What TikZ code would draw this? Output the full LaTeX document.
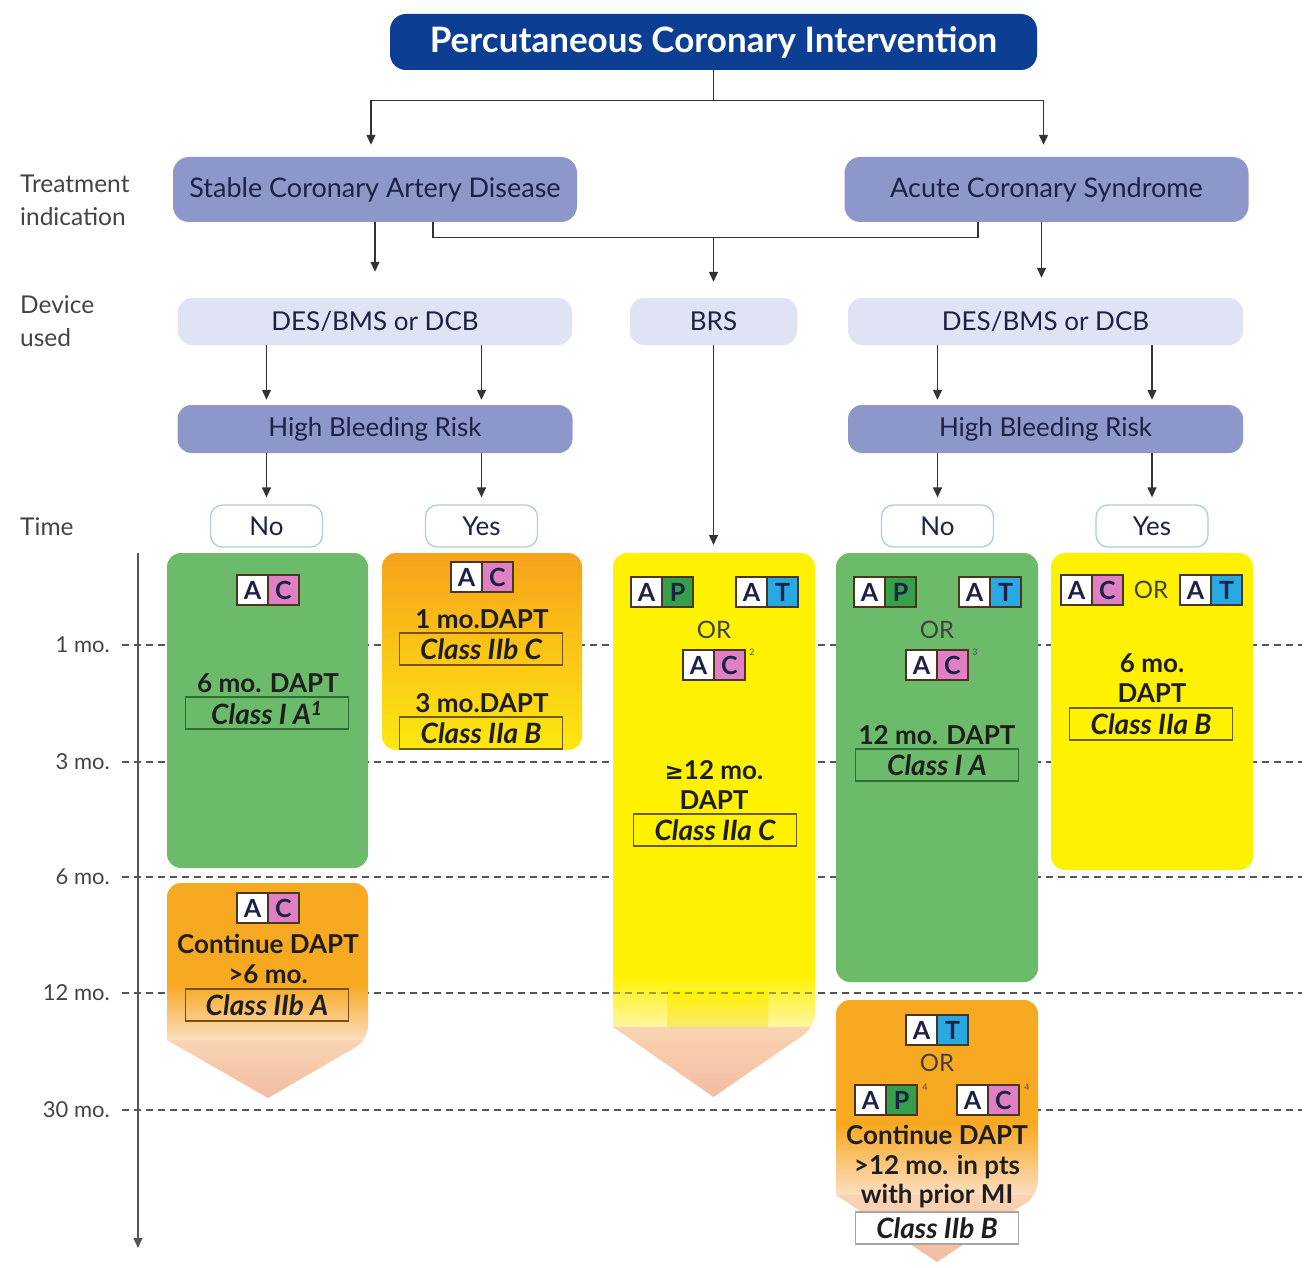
\documentclass[tikz,border=0pt]{standalone}
\usepackage{fontspec}
\setmainfont{Lato}
\newfontfamily\djv{DejaVu Sans}
\usetikzlibrary{arrows.meta,calc}
\definecolor{titleblue}{HTML}{0C3F93}
\definecolor{peri}{HTML}{8D97C9}
\definecolor{lav}{HTML}{DFE3F4}
\definecolor{nybord}{HTML}{A9CFD9}
\definecolor{gbox}{HTML}{6CBB6B}
\definecolor{ybox}{HTML}{FFF200}
\definecolor{obox}{HTML}{F7A21B}
\definecolor{obox2}{HTML}{F8A922}
\definecolor{yend}{HTML}{FDE810}
\definecolor{peachA}{HTML}{F9D4B2}
\definecolor{peachB}{HTML}{F3BBA2}
\definecolor{fadeO}{HTML}{FCDFC4}
\definecolor{fadeY}{HTML}{FFF6A8}
\definecolor{stemY}{HTML}{FBE870}
\definecolor{chipbord}{HTML}{4A3520}
\definecolor{chipC}{HTML}{E07FC4}
\definecolor{chipP}{HTML}{34A04A}
\definecolor{chipT}{HTML}{27A9E1}
\definecolor{navytext}{HTML}{1C2145}
\definecolor{linegrey}{HTML}{333333}
\definecolor{labgrey}{HTML}{444444}
\definecolor{dashgrey}{HTML}{555555}
\definecolor{clsG}{HTML}{2E6E35}
\definecolor{clsO}{HTML}{7A5010}
\definecolor{clsY}{HTML}{6B5A10}
\definecolor{boxtext}{HTML}{1E1E1E}
\tikzset{
  sq/.style={draw=chipbord, line width=1.2pt, minimum width=31pt, minimum height=30pt, inner sep=0pt,
    font=\bfseries\fontsize{25}{25}\selectfont, text=navytext},
  pics/chip/.style 2 args={code={
    \node[sq, fill=white] (-a) at (-15.5,0) {A};
    \node[sq, fill=#2] (-b) at (15.5,0) {#1};
  }},
}
\begin{document}
\begin{tikzpicture}[x=1pt,y=-1pt,
  flow/.style={rounded corners=16pt, fill=peri, text=navytext, font=\fontsize{27}{31}\selectfont,
    minimum width=404pt, minimum height=65pt, inner sep=0pt},
  dev/.style={rounded corners=14pt, fill=lav, text=navytext, font=\fontsize{26}{30}\selectfont,
    minimum height=47pt, inner sep=0pt},
  hbr/.style={rounded corners=14pt, fill=peri, text=navytext, font=\fontsize{26}{30}\selectfont,
    minimum width=395pt, minimum height=48pt, inner sep=0pt},
  yn/.style={draw=nybord, line width=1.3pt, fill=white, rounded corners=12pt, text=navytext,
    font=\fontsize{26}{30}\selectfont, minimum width=112pt, minimum height=42pt, inner sep=0pt},
  side/.style={anchor=west, align=left, text=labgrey, font=\fontsize{24.5}{33}\selectfont, inner sep=0pt},
  tlab/.style={anchor=east, text=labgrey, font=\fontsize{22}{26}\selectfont, inner sep=0pt},
  arr/.style={draw=linegrey, line width=1.3pt, -{Triangle[length=10pt,width=9pt]}},
  ln/.style={draw=linegrey, line width=1.3pt},
  dashline/.style={draw=dashgrey, line width=1.5pt, dash pattern=on 7pt off 5pt},
  axisline/.style={draw=dashgrey, line width=1.5pt, -{Triangle[length=10pt,width=9pt]}},
  btext/.style={font=\bfseries\fontsize{26}{29.5}\selectfont, text=boxtext, align=center, inner sep=0pt},
  cls/.style={draw=#1, line width=1.2pt, font=\bfseries\itshape\fontsize{28}{30}\selectfont, text=boxtext,
    minimum width=163pt, minimum height=32pt, inner sep=0pt},
  orx/.style={font=\fontsize{24}{28}\selectfont, text=black!75, inner sep=0pt},
  supx/.style={font=\fontsize{9}{9}\selectfont, text=black!70, inner sep=0pt},
]
\useasboundingbox (0,0) rectangle (1307,1268);
\fill[white] (0,0) rectangle (1307,1268);

% ---------- flow part ----------
\node[rounded corners=16pt, fill=titleblue, text=white, font=\bfseries\fontsize{35}{38}\selectfont,
  minimum width=647pt, minimum height=56pt, inner sep=0pt] (title) at (713.5,42) {Percutaneous Coronary Intervention};

\node[flow] (scad) at (375,189.5) {Stable Coronary Artery Disease};
\node[flow] (acs) at (1046.5,189.5) {Acute Coronary Syndrome};

\node[side] (lab1) at (20,200) {Treatment\\indication};
\node[side] (lab2) at (20,321.5) {Device\\used};
\node[side] (lab3) at (20,527) {Time};

\node[dev, minimum width=394pt] (desL) at (375,321.5) {DES/BMS or DCB};
\node[dev, minimum width=167pt] (brs) at (713.5,321.5) {BRS};
\node[dev, minimum width=395pt] (desR) at (1045.5,321.5) {DES/BMS or DCB};

\node[hbr] (hbrL) at (375,429) {High Bleeding Risk};
\node[hbr] (hbrR) at (1045.5,429) {High Bleeding Risk};

\node[yn] (noL) at (266.5,526) {No};
\node[yn] (yesL) at (481.5,526) {Yes};
\node[yn] (noR) at (937.5,526) {No};
\node[yn] (yesR) at (1152,526) {Yes};

% connectors
\draw[arr, shorten >=12pt] (title.south) -- ++(0,30) -| ([xshift=-4pt]scad.north);
\draw[arr, shorten >=12pt] (title.south) -- ++(0,30) -| ([xshift=-3pt]acs.north);
\draw[arr, shorten >=26pt] (scad.south) -- (desL.north);
\draw[arr, shorten >=20pt] ([xshift=-5pt]acs.south) -- ([xshift=-5pt]acs.south |- desR.north);
\draw[ln] ($(scad.south)+(58,0)$) -- ++(0,15) coordinate (jn0) -| ($(acs.south)+(-68.5,0)$);
\coordinate (jn) at (brs.north |- jn0);
\draw[arr, shorten >=16pt] (jn) -- (brs.north);

\draw[arr, shorten >=5pt] (desL.south -| noL.north) -- (hbrL.north -| noL.north);
\draw[arr, shorten >=5pt] (desL.south -| yesL.north) -- (hbrL.north -| yesL.north);
\draw[arr, shorten >=5pt] (desR.south -| noR.north) -- (hbrR.north -| noR.north);
\draw[arr, shorten >=5pt] (desR.south -| yesR.north) -- (hbrR.north -| yesR.north);

\draw[arr, shorten >=7pt] (hbrL.south -| noL.north) -- (noL.north);
\draw[arr, shorten >=7pt] (hbrL.south -| yesL.north) -- (yesL.north);
\draw[arr, shorten >=7pt] (hbrR.south -| noR.north) -- (noR.north);
\draw[arr, shorten >=7pt] (hbrR.south -| yesR.north) -- (yesR.north);

\coordinate (brsTop) at (713.5,553);
\draw[arr, shorten >=8pt] (brs.south) -- (brsTop);

% ---------- time axis ----------
\coordinate (axtop) at (138,553);
\coordinate (axbot) at (138,1248);
\draw[axisline] (axtop) -- (axbot);
\foreach \yy/\tt/\nm in {645/1 mo./t1, 762/3 mo./t3, 877/6 mo./t6, 993/12 mo./t12, 1110/30 mo./t30}{
  \node[tlab] (\nm) at (110,\yy) {\tt};
  \draw[dashline] (122,\yy) -- (1302,\yy);
}

% ---------- coloured boxes ----------
% green 1 (SCAD, no HBR)
\fill[gbox, rounded corners=14pt] (167,553) rectangle (368,868);
% orange 1 (SCAD, HBR)
\shade[top color=obox, bottom color=yend, rounded corners=14pt] (382,553) rectangle (582,750);
% yellow BRS arrow
\begin{scope}
  \clip (613,1027) [rounded corners=14pt] -- (613,553) -- (815,553) -- (815,1027) [sharp corners] -- (713.5,1097) -- cycle;
  \fill[ybox] (600,540) rectangle (830,976);
  \shade[top color=ybox, bottom color=fadeY] (600,975) rectangle (830,1028);
  \shade[top color=ybox, bottom color=stemY] (667,990) rectangle (768,1028);
  \shade[top color=peachA, bottom color=peachB] (600,1027) rectangle (830,1100);
\end{scope}
\draw[dashline, draw opacity=0.55] (613,993) -- (815,993);
% green 2 (ACS, no HBR)
\fill[gbox, rounded corners=14pt] (836,553) rectangle (1038,982);
% yellow 2 (ACS, HBR)
\fill[ybox, rounded corners=14pt] (1051,553) rectangle (1253,870);
% orange 2 (SCAD > 6 mo.)
\begin{scope}
  \clip (167,1040) [rounded corners=14pt] -- (167,883) -- (368,883) -- (368,1040) [sharp corners] -- (268,1098) -- cycle;
  \fill[obox2] (150,870) rectangle (380,986);
  \shade[top color=obox2, bottom color=fadeO] (150,985) rectangle (380,1041);
  \shade[top color=peachA, bottom color=peachB] (150,1040) rectangle (380,1100);
\end{scope}
% orange 3 (ACS > 12 mo.)
\begin{scope}
  \clip (836,1195) [rounded corners=14pt] -- (836,1000) -- (1038,1000) -- (1038,1195) [sharp corners] -- (937,1262) -- cycle;
  \fill[obox2] (820,990) rectangle (1050,1126);
  \shade[top color=obox2, bottom color=fadeO] (820,1125) rectangle (1050,1196);
  \shade[top color=peachA, bottom color=peachB] (820,1195) rectangle (1050,1265);
\end{scope}

% ---------- box contents ----------
% green 1
\pic (g1c) at (268,590) {chip={C}{chipC}};
\node[btext] (g1t) at (268,683) {6 mo. DAPT};
\node[cls=clsG] (g1k) at (267,713) {Class I A\textsuperscript{1}};
% orange 1
\pic (o1c) at (482,577) {chip={C}{chipC}};
\node[btext] (o1t) at (482,619) {1 mo.DAPT};
\node[cls=clsO] (o1k) at (481,649) {Class IIb C};
\node[btext] (o1u) at (482,703) {3 mo.DAPT};
\node[cls=clsY] (o1l) at (481,733) {Class IIa B};
% BRS
\pic (b1p) at (662,592) {chip={P}{chipP}};
\pic (b1t) at (767,592) {chip={T}{chipT}};
\node[orx] (b1or) at (714,630) {OR};
\pic (b1c) at (714,665) {chip={C}{chipC}};
\node[supx] (b1s) at (752,652) {2};
\node[btext] (b1x) at (714,785) {{\djv\bfseries\fontsize{23}{29.5}\selectfont ≥}12 mo.\\DAPT};
\node[cls=clsY] (b1k) at (715,830) {Class IIa C};
% green 2
\pic (g2p) at (885,592) {chip={P}{chipP}};
\pic (g2t) at (990,592) {chip={T}{chipT}};
\node[orx] (g2or) at (937,630) {OR};
\pic (g2c) at (937,665) {chip={C}{chipC}};
\node[supx] (g2s) at (975,652) {3};
\node[btext] (g2x) at (937,735) {12 mo. DAPT};
\node[cls=clsG] (g2k) at (937,765) {Class I A};
% yellow 2
\pic (y2c) at (1092,590) {chip={C}{chipC}};
\node[orx] (y2or) at (1151,590) {OR};
\pic (y2t) at (1211,590) {chip={T}{chipT}};
\node[btext] (y2x) at (1152,678) {6 mo.\\DAPT};
\node[cls=clsY] (y2k) at (1151,724) {Class IIa B};
% orange 2
\pic (o2c) at (268,908) {chip={C}{chipC}};
\node[btext] (o2x) at (268,959) {Continue DAPT\\>6 mo.};
\node[cls=clsO] (o2k) at (267,1005) {Class IIb A};
% orange 3
\pic (o3t) at (937,1030) {chip={T}{chipT}};
\node[orx] (o3or) at (937,1063) {OR};
\pic (o3p) at (886,1100) {chip={P}{chipP}};
\node[supx] (o3s1) at (925,1087) {4};
\pic (o3c) at (988,1100) {chip={C}{chipC}};
\node[supx] (o3s2) at (1027,1087) {4};
\node[btext] (o3x) at (937,1167) {Continue DAPT\\>12 mo. in pts\\with prior MI};
\node[cls=gray!70, fill=white] (o3k) at (937,1228) {Class IIb B};
\end{tikzpicture}
\end{document}
